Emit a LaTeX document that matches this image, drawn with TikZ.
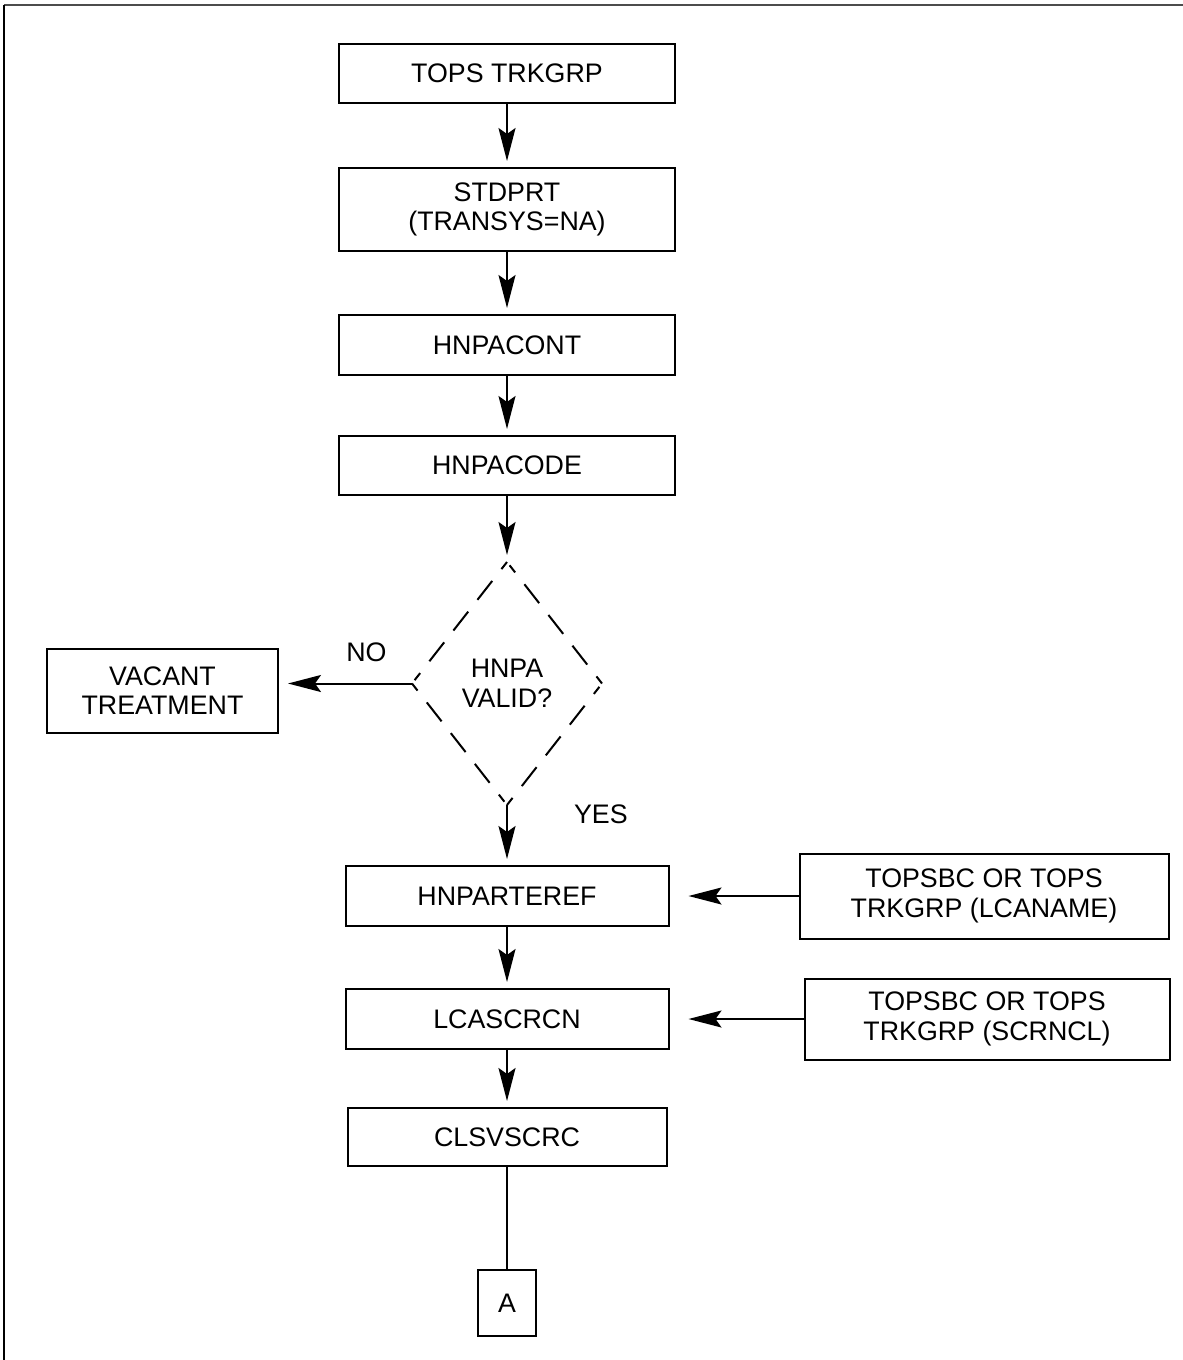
\documentclass[tikz,border=0pt]{standalone}
\usepackage{fontspec}
\setmainfont{Liberation Sans}
\usetikzlibrary{shapes.geometric, arrows.meta, positioning}

\begin{document}
\begin{tikzpicture}[
  x=0.5pt, y=-0.5pt,
  every node/.style={font=\fontsize{13.4pt}{14.8pt}\selectfont},
  table/.style={rectangle, draw=black, line width=1pt, fill=white,
                minimum width=168pt, minimum height=29.5pt, inner sep=0pt,
                outer sep=0pt, align=center},
  decision/.style={diamond, minimum width=95pt, minimum height=121.5pt,
                   inner sep=0pt, outer sep=0pt, align=center},
  dashside/.style={line width=1pt, dash pattern=on 4.5pt off 7.5pt on 12pt
                   off 7.5pt on 12pt off 7.5pt on 12pt off 7.5pt on 4.5pt off 20pt},
  arr/.style={-{Stealth[length=16.5pt, width=8.5pt, inset=3pt]}, line width=1pt,
              shorten >=3.5pt},
  plain/.style={line width=1pt},
]
  \useasboundingbox (0,0) rectangle (1183,1360);
  \draw[black!70, line width=0.75pt] (1183,5) -- (4,5);
  \draw[line width=0.75pt] (4,5) -- (4,1360);

  \node[table] (tops) at (507,73.5) {TOPS TRKGRP};
  \node[table, minimum height=41.5pt, below=32.5pt of tops] (stdprt) {STDPRT\\(TRANSYS=NA)};
  \node[table, minimum height=30pt, below=32pt of stdprt] (hnpacont) {HNPACONT};
  \node[table, below=30.5pt of hnpacont] (hnpacode) {HNPACODE};
  \node[decision, below=33.5pt of hnpacode] (valid) {HNPA\\VALID?};
  \node[table, minimum width=115.5pt, minimum height=42pt, left=67pt of valid,
        yshift=-3.5pt] (vacant) {VACANT\\TREATMENT};
  \node[table, minimum width=161.5pt, minimum height=30pt, below=30.5pt of valid] (hnparteref) {HNPARTEREF};
  \node[table, minimum width=161.5pt, minimum height=30pt, below=31.5pt of hnparteref] (lcascrcn) {LCASCRCN};
  \node[table, minimum width=159.5pt, minimum height=29pt, below=29.5pt of lcascrcn] (clsvscrc) {CLSVSCRC};
  \node[table, minimum width=29pt, minimum height=33pt, below=52pt of clsvscrc] (conA) {A};
  \node[table, minimum width=184.5pt, minimum height=42.5pt, right=65.5pt of hnparteref] (lcaname) {TOPSBC OR TOPS\\TRKGRP (LCANAME)};
  \node[table, minimum width=182.5pt, minimum height=40.5pt, right=68pt of lcascrcn] (scrncl) {TOPSBC OR TOPS\\TRKGRP (SCRNCL)};

  % dashed decision outline
  \draw[dashside] (valid.north) -- (valid.west);
  \draw[dashside] (valid.west) -- (valid.south);
  \draw[dashside] (valid.south) -- (valid.east);
  \draw[dashside] (valid.east) -- (valid.north);

  \draw[arr] (tops) -- (stdprt);
  \draw[arr] (stdprt) -- (hnpacont);
  \draw[arr] (hnpacont) -- (hnpacode);
  \draw[arr] (hnpacode) -- (valid.north);
  \draw[arr, shorten >=5pt] (valid.west) -- (valid.west -| vacant.east)
    node[pos=0.34, anchor=south, inner sep=0pt, yshift=10.5pt] {NO};
  \draw[arr] (valid.south) -- (hnparteref)
    node[pos=0.15, anchor=west, inner sep=0pt, xshift=33pt] {YES};
  \draw[arr] (hnparteref) -- (lcascrcn);
  \draw[arr] (lcascrcn) -- (clsvscrc);
  \draw[arr, shorten >=10pt] (lcaname) -- (hnparteref);
  \draw[arr, shorten >=10pt] (scrncl) -- (lcascrcn);
  \draw[plain] (clsvscrc) -- (conA);
\end{tikzpicture}
\end{document}
